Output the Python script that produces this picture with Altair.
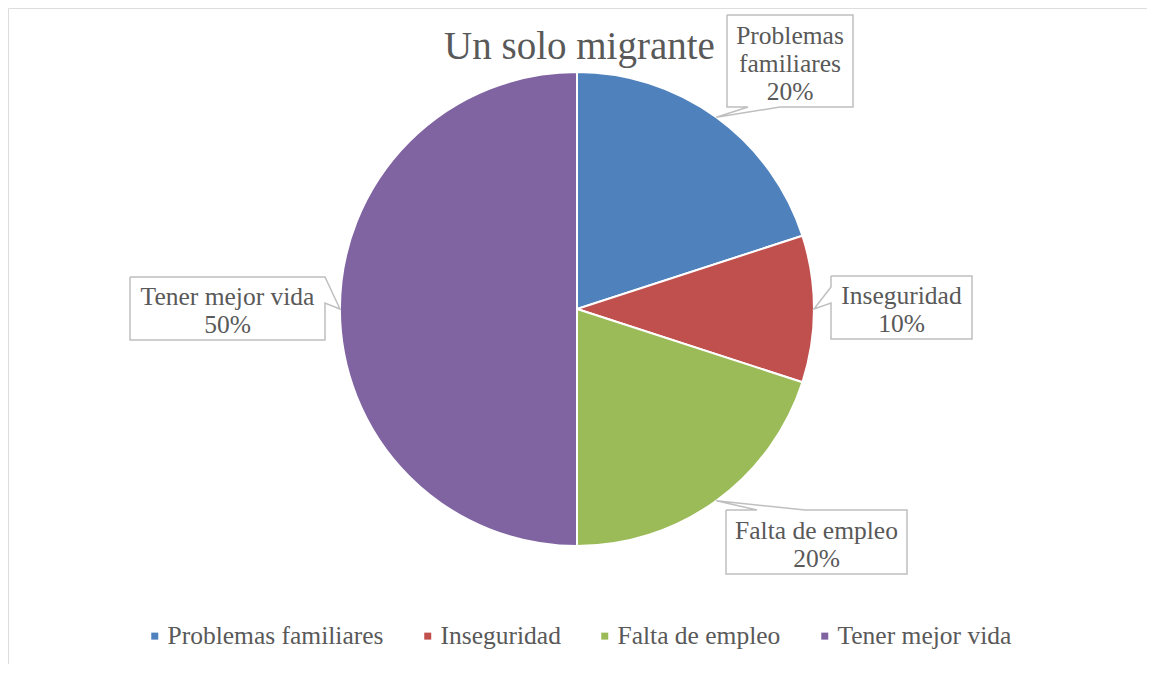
import math
import altair as alt
import pandas as pd

# ---- data ----
categories = ["Problemas familiares", "Inseguridad", "Falta de empleo", "Tener mejor vida"]
values = [20, 10, 20, 50]
label_names = ["Problemas\nfamiliares", "Inseguridad", "Falta de empleo", "Tener mejor vida"]
colors = ["#4F81BD", "#C0504D", "#9BBB59", "#8064A2"]
title_text = "Un solo migrante"

# ---- layout (page pixels of the reference, shifted by the 8px page margin) ----
M = 8
W, H = 1139, 656
CX, CY, R = 577 - M, 309 - M, 237
FONT = "Liberation Serif"
TXT = "#595959"
BOX = "#BFBFBF"
LH = 28

# callout boxes: left, top, right, bottom (reference page px), and pointer base on box edge
boxes = [
    dict(l=727, t=15, r=853, b=107, edge="bottom", p1=748, p2=780),
    dict(l=831, t=276, r=972, b=339, edge="left", p1=287, p2=303),
    dict(l=726, t=510, r=907, b=574, edge="top", p1=757, p2=805),
    dict(l=130, t=277, r=325, b=340, edge="right", p1=277, p2=303),
]

total = sum(values)
df = pd.DataFrame({"cat": categories, "value": values, "order": range(len(values))})

# pointer tips at slice mid-angles on the pie edge
tips = []
cum = 0
for v in values:
    a = 2 * math.pi * (cum + v / 2) / total
    tips.append((CX + R * math.sin(a), CY - R * math.cos(a)))
    cum += v

rows = []
for i, bx in enumerate(boxes):
    l, t, r, b = bx["l"] - M, bx["t"] - M, bx["r"] - M, bx["b"] - M
    p1, p2 = bx["p1"] - M, bx["p2"] - M
    tx, ty = tips[i]
    if bx["edge"] == "bottom":
        pts = [(l, t), (r, t), (r, b), (p2, b), (tx, ty), (p1, b), (l, b), (l, t)]
    elif bx["edge"] == "left":
        pts = [(l, t), (r, t), (r, b), (l, b), (l, p2), (tx, ty), (l, p1), (l, t)]
    elif bx["edge"] == "top":
        pts = [(l, t), (p1, t), (tx, ty), (p2, t), (r, t), (r, b), (l, b), (l, t)]
    else:  # right
        pts = [(l, t), (r, t), (tx, ty), (r, p2), (r, b), (l, b), (l, t)]
    for k, (x, y) in enumerate(pts):
        rows.append({"cid": i, "k": k, "px": x, "py": y})
outline_df = pd.DataFrame(rows)

texts = [f"{n}\n{v / total:.0%}" for n, v in zip(label_names, values)]
labels_df = pd.DataFrame({
    "txt": texts,
    "lx": [(bx["l"] + bx["r"]) / 2 - M for bx in boxes],
    "ly": [(bx["t"] + bx["b"]) / 2 - M - (s.count("\n")) * LH / 2 + 2.5
           for bx, s in zip(boxes, texts)],
})

title_df = pd.DataFrame({"t": [title_text]})

pie = alt.Chart(df).mark_arc(outerRadius=R, stroke="white", strokeWidth=2).encode(
    theta=alt.Theta("value:Q", stack=True),
    order=alt.Order("order:Q"),
    color=alt.Color(
        "cat:N",
        scale=alt.Scale(domain=categories, range=colors),
        sort=categories,
        legend=alt.Legend(
            title=None,
            orient="none",
            direction="horizontal",
            legendX=132,
            legendY=615,
            symbolType="square",
            symbolSize=49,
            symbolStrokeWidth=0,
            symbolOffset=2,
            labelFont=FONT,
            labelFontSize=25.5,
            labelColor=TXT,
            labelOffset=0,
            labelLimit=0,
            columnPadding=29,
            padding=0,
        ),
    ),
    x=alt.value(CX),
    y=alt.value(CY),
)

outlines = alt.Chart(outline_df).mark_line(color=BOX, strokeWidth=1.5).encode(
    x=alt.X("px:Q", scale=None, axis=None),
    y=alt.Y("py:Q", scale=None, axis=None),
    detail="cid:N",
    order="k:Q",
)

labels = alt.Chart(labels_df).mark_text(
    font=FONT, fontSize=25.5, color=TXT, lineBreak="\n", lineHeight=LH,
    align="center", baseline="middle",
).encode(
    x=alt.X("lx:Q", scale=None, axis=None),
    y=alt.Y("ly:Q", scale=None, axis=None),
    text="txt:N",
)

title = alt.Chart(title_df).mark_text(
    font=FONT, fontSize=39, color=TXT, align="center", baseline="alphabetic",
).encode(
    x=alt.value(579.5 - M),
    y=alt.value(59 - M),
    text="t:N",
)

chart = alt.layer(pie, outlines, labels, title).properties(
    width=W, height=H, padding=0, autosize=alt.AutoSizeParams(type="none")
).configure_view(stroke="#D9D9D9", strokeWidth=1.5).configure(background="white")

chart.save("out.html", embed_options={"renderer": "svg", "actions": False})
